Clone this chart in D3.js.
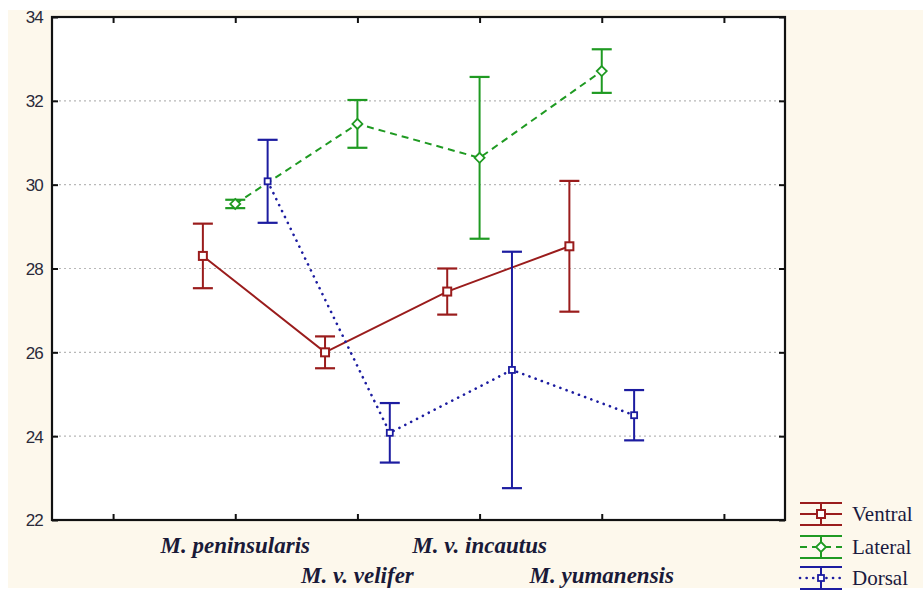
<!DOCTYPE html>
<html>
<head>
<meta charset="utf-8">
<script src="https://cdn.jsdelivr.net/npm/d3@7"></script>
<style>
  html, body { margin: 0; padding: 0; background: #ffffff; }
  svg { display: block; }
</style>
</head>
<body>
<svg id="chart" width="923" height="590"></svg>
<script>
// Species along the x axis (placed at positions 1..4; 0 and 5 are empty ticks)
const categories = ["M. peninsularis", "M. v. velifer", "M. v. incautus", "M. yumanensis"];

// Means and error-bar half-widths per body region
const ventralMean = [28.3, 26.0, 27.45, 28.53];
const ventralErr  = [0.77, 0.38, 0.55, 1.56];
const lateralMean = [29.54, 31.45, 30.64, 32.71];
const lateralErr  = [0.10, 0.57, 1.93, 0.52];
const dorsalMean  = [30.08, 24.08, 25.58, 24.5];
const dorsalErr   = [0.99, 0.71, 2.82, 0.6];

const seriesNames = ["Ventral", "Lateral", "Dorsal"];
const yTicks = [22, 24, 26, 28, 30, 32, 34];
const gridValues = [24, 26, 28, 30, 32];
const xTicks = [0, 1, 2, 3, 4, 5];

const series = [
  { name: seriesNames[0], mean: ventralMean, err: ventralErr, color: "#9a1c1c", dash: null, cap: "butt", width: 2, shift: -0.265, marker: "square" },
  { name: seriesNames[1], mean: lateralMean, err: lateralErr, color: "#1f9a22", dash: "7,5", cap: "butt", width: 2, shift: 0, marker: "diamond" },
  { name: seriesNames[2], mean: dorsalMean,  err: dorsalErr,  color: "#1c1ca0", dash: "0.1,6.5", cap: "round", width: 2.6, shift: 0.265, marker: "dot" }
];

const svg = d3.select("#chart");
const W = 923, H = 590;
const plot = { left: 52, right: 785, top: 17, bottom: 520 };

svg.append("defs").append("clipPath").attr("id", "page")
  .append("rect").attr("x", 8).attr("y", 10).attr("width", W - 8).attr("height", H - 10);

const root = svg.append("g").attr("clip-path", "url(#page)");

// cream page background
root.append("rect").attr("x", 8).attr("y", 10).attr("width", W - 8).attr("height", H - 12)
  .attr("fill", "#fdf8ec");

// white plotting area
root.append("rect")
  .attr("x", plot.left).attr("y", plot.top)
  .attr("width", plot.right - plot.left).attr("height", plot.bottom - plot.top)
  .attr("fill", "#ffffff");

const x = d3.scaleLinear().domain([-0.5, 5.5]).range([plot.left, plot.right]);
const y = d3.scaleLinear().domain([22, 34]).range([plot.bottom, plot.top]);

// dotted horizontal grid
root.append("g").selectAll("line").data(gridValues).join("line")
  .attr("x1", plot.left + 2).attr("x2", plot.right - 2)
  .attr("y1", d => y(d)).attr("y2", d => y(d))
  .attr("stroke", "#b8b8b8").attr("stroke-width", 1.2)
  .attr("stroke-dasharray", "2,3");

// axes with inward ticks
const axisStyle = g => {
  g.select(".domain").remove();
  g.selectAll(".tick line").attr("stroke", "#111").attr("stroke-width", 2);
};

root.append("g").attr("transform", `translate(0,${plot.bottom})`)
  .call(d3.axisTop(x).tickValues(xTicks).tickSize(6).tickFormat(""))
  .call(axisStyle);
root.append("g").attr("transform", `translate(0,${plot.top})`)
  .call(d3.axisBottom(x).tickValues(xTicks).tickSize(6).tickFormat(""))
  .call(axisStyle);
root.append("g").attr("transform", `translate(${plot.right},0)`)
  .call(d3.axisLeft(y).tickValues(yTicks).tickSize(6).tickFormat(""))
  .call(axisStyle);

const yAxis = root.append("g").attr("transform", `translate(${plot.left},0)`)
  .call(d3.axisRight(y).tickValues(yTicks).tickSize(6).tickFormat(d3.format("d")))
  .call(axisStyle);
yAxis.selectAll(".tick text")
  .attr("x", -9).attr("text-anchor", "end").attr("dy", "0.35em")
  .attr("font-family", "'Liberation Sans', Arial, sans-serif")
  .attr("font-size", 17).attr("letter-spacing", -0.8)
  .attr("fill", "#2a2a3a");

// frame
root.append("rect")
  .attr("x", plot.left).attr("y", plot.top)
  .attr("width", plot.right - plot.left).attr("height", plot.bottom - plot.top)
  .attr("fill", "none").attr("stroke", "#111").attr("stroke-width", 2.2);

// staggered category labels
root.append("g").selectAll("text").data(categories).join("text")
  .attr("x", (d, i) => x(i + 1))
  .attr("y", (d, i) => i % 2 === 0 ? 553 : 583)
  .attr("text-anchor", "middle")
  .attr("font-family", "'Liberation Serif', 'Times New Roman', serif")
  .attr("font-style", "italic").attr("font-weight", "bold")
  .attr("font-size", 23)
  .attr("fill", "#1a1a38")
  .text(d => d);

const capHalf = 10;

function drawMarker(g, type, cx, cy, color) {
  if (type === "square") {
    g.append("rect").attr("x", cx - 4).attr("y", cy - 4).attr("width", 8).attr("height", 8)
      .attr("fill", "#fff").attr("stroke", color).attr("stroke-width", 2);
  } else if (type === "diamond") {
    g.append("path")
      .attr("d", `M${cx},${cy - 5}L${cx + 5},${cy}L${cx},${cy + 5}L${cx - 5},${cy}Z`)
      .attr("fill", "#fff").attr("stroke", color).attr("stroke-width", 1.8);
  } else {
    g.append("rect").attr("x", cx - 3).attr("y", cy - 3).attr("width", 6).attr("height", 6)
      .attr("fill", "#fff").attr("stroke", color).attr("stroke-width", 1.8);
  }
}

const line = d3.line().x(d => d[0]).y(d => d[1]);

series.forEach(s => {
  const g = root.append("g");
  const pts = s.mean.map((m, i) => [x(i + 1 + s.shift), y(m)]);

  g.append("path").attr("d", line(pts))
    .attr("fill", "none").attr("stroke", s.color).attr("stroke-width", s.width)
    .attr("stroke-dasharray", s.dash)
    .attr("stroke-linecap", s.cap);

  s.mean.forEach((m, i) => {
    const cx = x(i + 1 + s.shift);
    const y0 = y(m - s.err[i]), y1 = y(m + s.err[i]);
    g.append("line").attr("x1", cx).attr("x2", cx).attr("y1", y0).attr("y2", y1)
      .attr("stroke", s.color).attr("stroke-width", 2);
    [y0, y1].forEach(yy => g.append("line")
      .attr("x1", cx - capHalf).attr("x2", cx + capHalf).attr("y1", yy).attr("y2", yy)
      .attr("stroke", s.color).attr("stroke-width", 2.2));
    drawMarker(g, s.marker, cx, y(m), s.color);
  });
});

// legend
const legendRows = [514, 547, 578];
series.forEach((s, i) => {
  const g = root.append("g");
  const cy = legendRows[i];
  const cx = 821;
  g.append("line").attr("x1", 800).attr("x2", 842).attr("y1", cy).attr("y2", cy)
    .attr("stroke", s.color).attr("stroke-width", s.width)
    .attr("stroke-dasharray", s.dash).attr("stroke-linecap", s.cap);
  g.append("line").attr("x1", cx).attr("x2", cx).attr("y1", cy - 11).attr("y2", cy + 11)
    .attr("stroke", s.color).attr("stroke-width", 2);
  [cy - 11, cy + 11].forEach(yy => g.append("line")
    .attr("x1", 800).attr("x2", 842).attr("y1", yy).attr("y2", yy)
    .attr("stroke", s.color).attr("stroke-width", 2.2));
  drawMarker(g, s.marker, cx, cy, s.color);
  g.append("text").attr("x", 852).attr("y", cy).attr("dy", "0.35em")
    .attr("font-family", "'Liberation Serif', 'Times New Roman', serif")
    .attr("font-size", 21).attr("fill", "#1a1a40")
    .text(s.name);
});
</script>
</body>
</html>
